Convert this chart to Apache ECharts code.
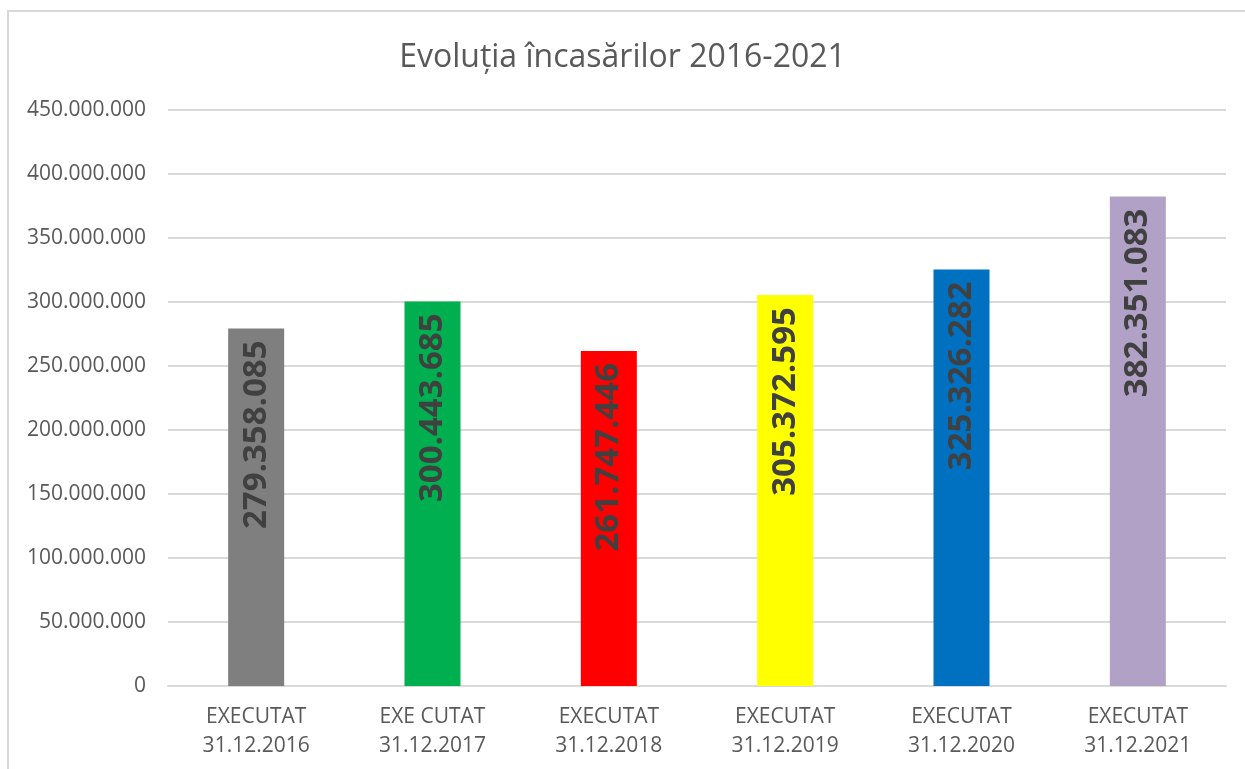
<!DOCTYPE html>
<html>
<head>
<meta charset="utf-8" />
<title>Evoluția încasărilor 2016-2021</title>
<script src="https://cdn.jsdelivr.net/npm/echarts@6/dist/echarts.min.js"></script>
<style>
  html, body { margin: 0; padding: 0; background: #fff; }
  #chart { width: 1245px; height: 769px; }
</style>
</head>
<body>
<div id="chart"></div>
<script>
var categories = ['EXECUTAT\n31.12.2016', 'EXE CUTAT\n31.12.2017', 'EXECUTAT\n31.12.2018',
  'EXECUTAT\n31.12.2019', 'EXECUTAT\n31.12.2020', 'EXECUTAT\n31.12.2021'];
var values = [279358085, 300443685, 261747446, 305372595, 325326282, 382351083];
var barColors = ['#7f7f7f', '#00b050', '#ff0000', '#ffff00', '#0070c0', '#b2a1c7'];

// 1234567 -> 1.234.567
function dots(v) {
  return String(Math.round(v)).replace(/\B(?=(\d{3})+(?!\d))/g, '.');
}

var chart = echarts.init(document.getElementById('chart'));
chart.setOption({
  animation: false,
  textStyle: { fontFamily: 'Open Sans' },
  title: {
    text: 'Evoluția încasărilor 2016-2021',
    left: 'center',
    top: 37,
    textStyle: { fontSize: 32, fontWeight: 'normal', color: '#595959' }
  },
  graphic: [{
    type: 'rect',
    shape: { x: 8, y: 11, width: 1260, height: 790 },
    style: { fill: 'none', stroke: '#d9d9d9', lineWidth: 2 },
    silent: true
  }],
  grid: { left: 168, right: 19, top: 110, bottom: 83 },
  xAxis: {
    type: 'category',
    data: categories,
    axisTick: { show: false },
    axisLine: { lineStyle: { color: '#d9d9d9', width: 2 } },
    axisLabel: { color: '#595959', fontSize: 21, lineHeight: 29, margin: 17 }
  },
  yAxis: {
    type: 'value',
    min: 0,
    max: 450000000,
    interval: 50000000,
    axisLine: { show: false },
    axisTick: { show: false },
    splitLine: { lineStyle: { color: '#d9d9d9', width: 2 } },
    axisLabel: { color: '#595959', fontSize: 21, margin: 22, formatter: dots }
  },
  series: [{
    type: 'bar',
    data: values.map(function (v, i) {
      return { value: v, itemStyle: { color: barColors[i] } };
    }),
    barWidth: 56,
    label: {
      show: true,
      position: 'insideTop',
      rotate: 90,
      align: 'right',
      verticalAlign: 'middle',
      distance: 12,
      color: '#404040',
      fontSize: 33,
      fontWeight: 'bold',
      formatter: function (p) { return dots(p.value); }
    }
  }]
});
</script>
</body>
</html>
